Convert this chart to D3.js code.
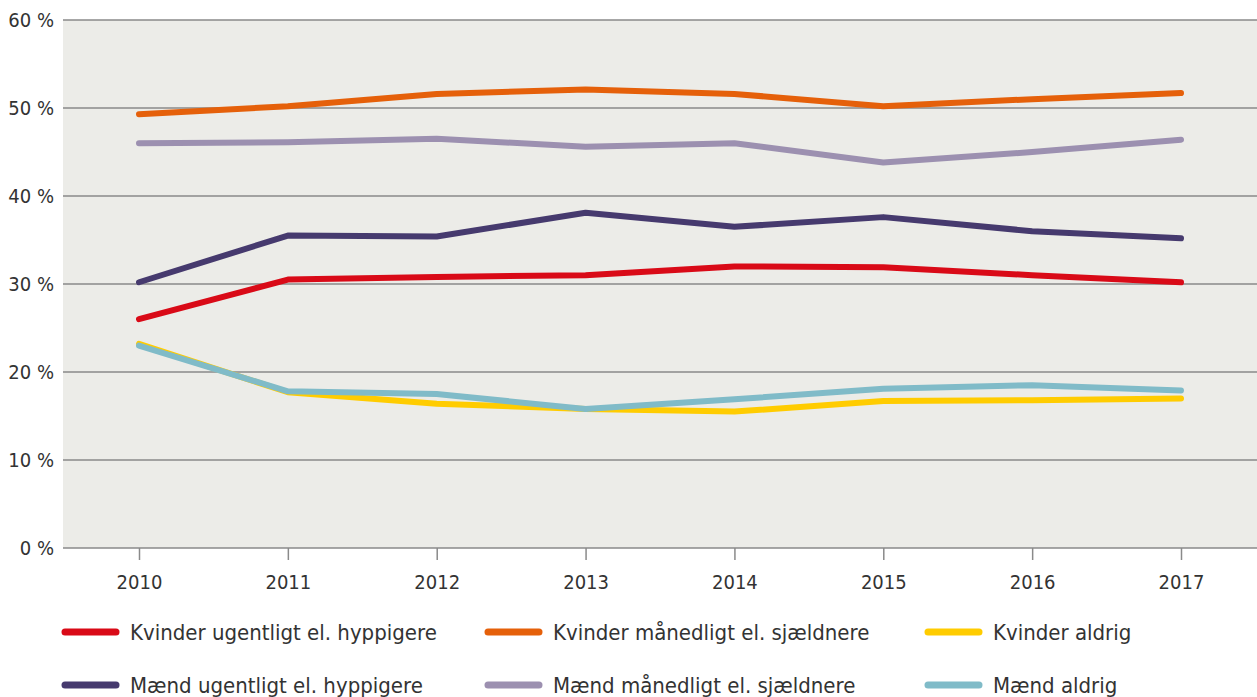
<!DOCTYPE html>
<html>
<head>
<meta charset="utf-8">
<script src="https://cdn.jsdelivr.net/npm/d3@7"></script>
<style>
  body { margin: 0; background: #fff; }
  svg { display: block; font-family: "DejaVu Sans Condensed", "Liberation Sans Narrow", sans-serif; }
  .tick text { fill: #333; font-size: 20px; font-family: "DejaVu Sans Condensed", "Liberation Sans Narrow", sans-serif; }
</style>
</head>
<body>
<svg id="chart" width="1257" height="697"></svg>
<script>
// years on the x axis
var years = [2010, 2011, 2012, 2013, 2014, 2015, 2016, 2017];
var yTicks = [0, 10, 20, 30, 40, 50, 60];

// series values (percent)
var kvinderUgentligt = [26.0, 30.5, 30.8, 31.0, 32.0, 31.9, 31.0, 30.2];
var kvinderMaanedligt = [49.3, 50.2, 51.6, 52.1, 51.6, 50.2, 51.0, 51.7];
var kvinderAldrig = [23.2, 17.7, 16.4, 15.8, 15.5, 16.7, 16.8, 17.0];
var maendUgentligt = [30.2, 35.5, 35.4, 38.1, 36.5, 37.6, 36.0, 35.2];
var maendMaanedligt = [46.0, 46.1, 46.5, 45.6, 46.0, 43.8, 45.0, 46.4];
var maendAldrig = [23.0, 17.8, 17.5, 15.8, 16.9, 18.1, 18.5, 17.9];

var seriesNames = [
  "Kvinder ugentligt el. hyppigere",
  "Kvinder månedligt el. sjældnere",
  "Kvinder aldrig",
  "Mænd ugentligt el. hyppigere",
  "Mænd månedligt el. sjældnere",
  "Mænd aldrig"
];
var seriesValues = [kvinderUgentligt, kvinderMaanedligt, kvinderAldrig,
                    maendUgentligt, maendMaanedligt, maendAldrig];
var seriesColors = ["#d90a17", "#e5600a", "#ffcc00", "#463a6e", "#9c90b0", "#80bbc8"];

var svg = d3.select("#chart");
var margin = {top: 20, left: 63, right: 0, bottom: 150};
var width = 1257 - margin.left - margin.right;
var height = 548 - margin.top;

var g = svg.append("g")
  .attr("transform", "translate(" + margin.left + "," + margin.top + ")");

var x = d3.scalePoint()
  .domain(years)
  .range([76, 1118]);
var y = d3.scaleLinear()
  .domain([0, 60])
  .range([height, 0]);

// plot background
g.append("rect")
  .attr("width", width)
  .attr("height", height)
  .attr("fill", "#ecece8");

// grid lines
g.selectAll(".grid")
  .data(yTicks)
  .enter().append("line")
    .attr("class", "grid")
    .attr("x1", 0)
    .attr("x2", width)
    .attr("y1", function(d) { return y(d); })
    .attr("y2", function(d) { return y(d); })
    .attr("stroke", "#8a8a8a")
    .attr("stroke-width", 1.5);

// y axis labels
var yAxis = g.append("g")
  .call(d3.axisLeft(y).tickValues(yTicks).tickSize(0).tickPadding(9)
    .tickFormat(function(d) { return d + " %"; }));
yAxis.select(".domain").remove();

// x axis
var xAxis = g.append("g")
  .attr("transform", "translate(0," + height + ")")
  .call(d3.axisBottom(x).tickSize(12).tickPadding(15).tickFormat(d3.format("d")));
xAxis.select(".domain").remove();
xAxis.selectAll(".tick line").attr("stroke", "#8a8a8a").attr("stroke-width", 1.5);

// lines
var line = d3.line()
  .x(function(d, i) { return x(years[i]); })
  .y(function(d) { return y(d); });

g.selectAll(".series")
  .data(seriesValues)
  .enter().append("path")
    .attr("class", "series")
    .attr("d", line)
    .attr("fill", "none")
    .attr("stroke", function(d, i) { return seriesColors[i]; })
    .attr("stroke-width", 6)
    .attr("stroke-linecap", "round")
    .attr("stroke-linejoin", "round");

// legend
var legendX = [62, 485, 925];
var legendY = [632, 685];
var legend = svg.selectAll(".legend")
  .data(seriesNames)
  .enter().append("g")
    .attr("class", "legend")
    .attr("transform", function(d, i) {
      return "translate(" + legendX[i % 3] + "," + legendY[Math.floor(i / 3)] + ")";
    });
legend.append("line")
  .attr("x1", 3).attr("x2", 54)
  .attr("stroke", function(d, i) { return seriesColors[i]; })
  .attr("stroke-width", 7)
  .attr("stroke-linecap", "round");
legend.append("text")
  .attr("x", 68)
  .attr("dy", "0.35em")
  .attr("fill", "#333")
  .style("font-size", "22px")
  .text(function(d) { return d; });
</script>
</body>
</html>
